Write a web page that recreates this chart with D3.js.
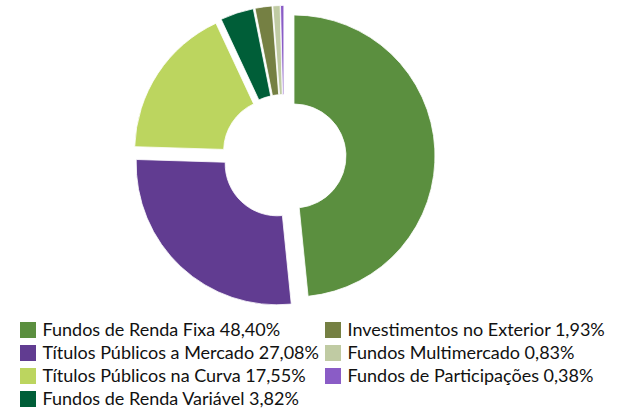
<!DOCTYPE html>
<html>
<head>
<meta charset="utf-8">
<script src="https://cdn.jsdelivr.net/npm/d3@7"></script>
<style>
  body { margin: 0; background: #fff; }
  svg { display: block; font-family: Lato, sans-serif; }
</style>
</head>
<body>
<svg id="chart" width="619" height="410"></svg>
<script>
const width = 619;
const height = 410;

const categories = [
  "Fundos de Renda Fixa",
  "Títulos Públicos a Mercado",
  "Títulos Públicos na Curva",
  "Fundos de Renda Variável",
  "Investimentos no Exterior",
  "Fundos Multimercado",
  "Fundos de Participações"
];
const values = [48.40, 27.08, 17.55, 3.82, 1.93, 0.83, 0.38];
const labels = ["48,40%", "27,08%", "17,55%", "3,82%", "1,93%", "0,83%", "0,38%"];
const colors = ["#5b8f3f", "#613c91", "#bcd55f", "#005e38", "#758043", "#c0cba3", "#8a5cc6"];

const cx = 284;
const cy = 156.5;
const outerR = 141;
const innerR = 52;
const explode = 10;

const svg = d3.select("#chart");

const pie = d3.pie().sort(null).value(d => d.value);
const arc = d3.arc().innerRadius(innerR).outerRadius(outerR);

const data = categories.map((c, i) => ({name: c, value: values[i], label: labels[i], color: colors[i]}));

const g = svg.append("g").attr("transform", `translate(${cx},${cy})`);

g.selectAll("path")
  .data(pie(data))
  .join("path")
  .attr("d", arc)
  .attr("fill", d => d.data.color)
  .attr("stroke", "#fff")
  .attr("stroke-width", 0.8)
  .attr("transform", d => {
    const a = (d.startAngle + d.endAngle) / 2;
    return `translate(${explode * Math.sin(a)},${-explode * Math.cos(a)})`;
  });

// legend: 4 rows in first column, rest in second
const rowY = d3.scaleLinear().domain([0, 1]).range([330, 353]);
const colX = [20, 325];
const legend = svg.append("g");
data.forEach((d, i) => {
  const col = i < 4 ? 0 : 1;
  const row = i < 4 ? i : i - 4;
  const item = legend.append("g")
    .attr("transform", `translate(${colX[col]},${rowY(row)})`);
  item.append("rect")
    .attr("x", 0).attr("y", -8)
    .attr("width", 16).attr("height", 16)
    .attr("fill", d.color);
  item.append("text")
    .attr("x", 22.5).attr("y", 0)
    .attr("dy", "0.35em")
    .attr("font-size", 18)
    .attr("fill", "#111")
    .text(`${d.name} ${d.label}`);
});
</script>
</body>
</html>
